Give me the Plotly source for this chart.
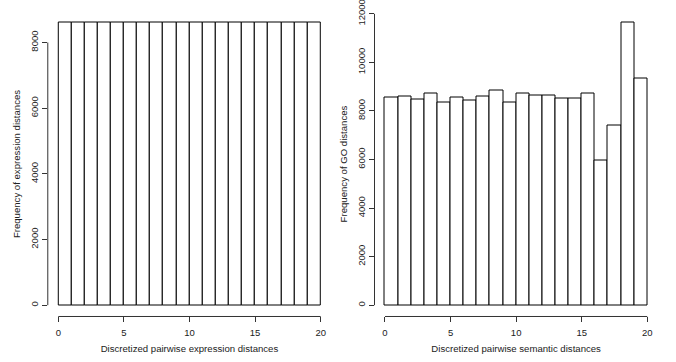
import plotly.graph_objects as go

# Data
bin_edges = list(range(0, 21))
expr_counts = [8600] * 20
go_counts = [8550, 8575, 8455, 8700, 8345, 8565, 8440, 8595, 8825, 8360,
             8730, 8635, 8635, 8510, 8510, 8730, 5970, 7410, 11630, 9320]
x_ticks = [0, 5, 10, 15, 20]
y_ticks_left = [0, 2000, 4000, 6000, 8000]
y_ticks_right = [0, 2000, 4000, 6000, 8000, 10000, 12000]

centers = [(bin_edges[i] + bin_edges[i + 1]) / 2 for i in range(20)]
widths = [bin_edges[i + 1] - bin_edges[i] for i in range(20)]

FONT = "Liberation Sans, Arial, sans-serif"

fig = go.Figure()
fig.add_trace(go.Bar(x=centers, y=expr_counts, width=widths,
                     marker=dict(color="white", line=dict(color="black", width=1)),
                     xaxis="x", yaxis="y", showlegend=False, hoverinfo="skip"))
fig.add_trace(go.Bar(x=centers, y=go_counts, width=widths,
                     marker=dict(color="white", line=dict(color="black", width=1)),
                     xaxis="x2", yaxis="y2", showlegend=False, hoverinfo="skip"))


def rng(vals):
    lo, hi = 0, max(vals)
    d = (hi - lo) * 0.04
    return [lo - d, hi + d]


xr = [bin_edges[0] - 0.04 * (bin_edges[-1] - bin_edges[0]),
      bin_edges[-1] + 0.04 * (bin_edges[-1] - bin_edges[0])]

ydom = [0.1257, 0.9682]
common_x = dict(range=xr, tickvals=x_ticks, ticktext=[str(v) for v in x_ticks],
                ticks="outside", ticklen=5, tickwidth=1, automargin=False,
                ticklabeloverflow="allow", ticklabelstandoff=2,
                tickcolor="#333", showline=False, showgrid=False, zeroline=False,
                tickfont=dict(family=FONT, size=9.5, color="#222"),
                title_font=dict(family=FONT, size=9.6, color="#222"), title_standoff=8)
common_y = dict(ticks="outside", ticklen=5, tickwidth=1, tickcolor="#333", automargin=False,
                ticklabeloverflow="allow",
                showline=False, showgrid=False, zeroline=False, tickangle=-90,
                tickfont=dict(family=FONT, size=9.5, color="#222"),
                title_font=dict(family=FONT, size=9.6, color="#222"), title_standoff=6)

fig.update_layout(
    width=676, height=362, margin=dict(l=0, r=0, t=0, b=0),
    paper_bgcolor="white", plot_bgcolor="white", bargap=0,
    xaxis=dict(domain=[0.0707, 0.4899], anchor="y",
               title_text="Discretized pairwise expression distances", **common_x),
    yaxis=dict(domain=ydom, anchor="x", range=rng(expr_counts), tickvals=y_ticks_left,
               ticktext=[str(v) for v in y_ticks_left],
               title_text="Frequency of expression distances", **common_y),
    xaxis2=dict(domain=[0.554, 0.973], anchor="y2",
                title_text="Discretized pairwise semantic distances", **common_x),
    yaxis2=dict(domain=ydom, anchor="x2", range=rng(go_counts), tickvals=y_ticks_right,
                ticktext=[str(v) for v in y_ticks_right],
                title_text="Frequency of GO distances", **common_y),
)

shapes = []
for xa, ya, yt in (("x", "y", y_ticks_left), ("x2", "y2", y_ticks_right)):
    shapes.append(dict(type="line", xref=xa, yref=f"{ya} domain",
                       x0=x_ticks[0], x1=x_ticks[-1], y0=0, y1=0,
                       line=dict(color="#333", width=1)))
    shapes.append(dict(type="line", xref=f"{xa} domain", yref=ya,
                       x0=0, x1=0, y0=yt[0], y1=yt[-1],
                       line=dict(color="#333", width=1)))
fig.update_layout(shapes=shapes)

fig.write_html("out.html", config={"displayModeBar": False},
               post_script="document.body.style.margin='0';")
